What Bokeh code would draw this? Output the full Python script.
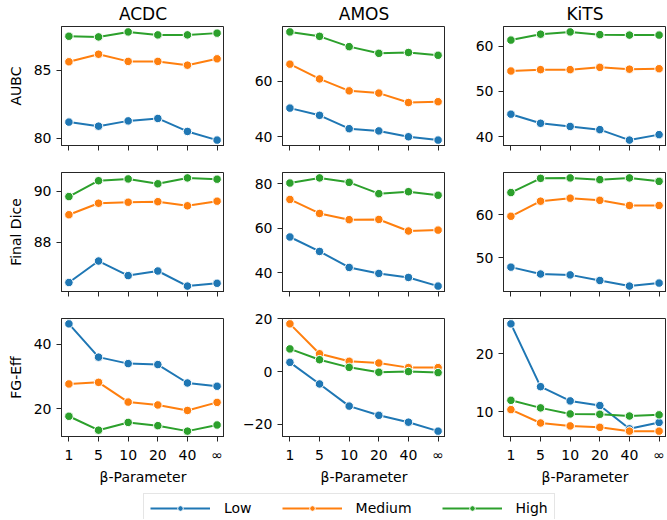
from bokeh.plotting import figure
from bokeh.layouts import row, column
from bokeh.models import Range1d, FixedTicker, Legend, LegendItem
from bokeh.core.properties import value
from bokeh.embed import file_html
from bokeh.resources import INLINE

# ---------------- data ----------------
betas = ["1", "5", "10", "20", "40", "∞"]
datasets = ["ACDC", "AMOS", "KiTS"]
metrics = ["AUBC", "Final Dice", "FG-Eff"]
levels = ["Low", "Medium", "High"]

acdc_aubc_low = [81.18, 80.88, 81.27, 81.45, 80.49, 79.85]
acdc_aubc_medium = [85.64, 86.20, 85.67, 85.67, 85.39, 85.86]
acdc_aubc_high = [87.53, 87.48, 87.85, 87.63, 87.63, 87.76]

amos_aubc_low = [50.3, 47.7, 42.9, 42.1, 40.0, 38.8]
amos_aubc_medium = [66.1, 60.8, 56.5, 55.7, 52.3, 52.6]
amos_aubc_high = [77.7, 76.1, 72.4, 70.0, 70.3, 69.3]

kits_aubc_low = [45.0, 43.0, 42.3, 41.6, 39.3, 40.5]
kits_aubc_medium = [54.5, 54.8, 54.8, 55.3, 54.9, 55.0]
kits_aubc_high = [61.3, 62.6, 63.1, 62.5, 62.4, 62.4]

acdc_dice_low = [86.43, 87.27, 86.70, 86.88, 86.29, 86.40]
acdc_dice_medium = [89.08, 89.53, 89.57, 89.59, 89.43, 89.61]
acdc_dice_high = [89.79, 90.41, 90.48, 90.29, 90.52, 90.47]

amos_dice_low = [56.1, 49.6, 42.4, 39.7, 37.9, 34.0]
amos_dice_medium = [73.0, 66.7, 63.9, 64.0, 58.8, 59.2]
amos_dice_high = [80.4, 82.7, 80.7, 75.6, 76.5, 74.9]

kits_dice_low = [47.8, 46.2, 46.0, 44.7, 43.4, 44.1]
kits_dice_medium = [59.6, 63.1, 63.8, 63.3, 62.1, 62.1]
kits_dice_high = [65.1, 68.4, 68.5, 68.1, 68.5, 67.7]

acdc_fg_low = [46.3, 36.0, 34.0, 33.7, 28.0, 27.0]
acdc_fg_medium = [27.7, 28.2, 22.1, 21.2, 19.5, 22.0]
acdc_fg_high = [17.7, 13.4, 15.8, 14.8, 13.1, 15.0]

amos_fg_low = [3.5, -4.7, -13.1, -16.6, -19.2, -22.6]
amos_fg_medium = [18.1, 6.75, 3.9, 3.25, 1.5, 1.5]
amos_fg_high = [8.6, 4.5, 1.6, -0.25, 0.0, -0.4]

kits_fg_low = [25.15, 14.35, 11.9, 11.1, 7.1, 8.2]
kits_fg_medium = [10.4, 8.1, 7.6, 7.35, 6.7, 6.7]
kits_fg_high = [12.0, 10.7, 9.66, 9.6, 9.3, 9.5]

yticks_aubc = [[80, 85], [40, 60], [40, 50, 60]]
yticks_dice = [[88, 90], [40, 60, 80], [50, 60]]
yticks_fg = [[20, 40], [-20, 0, 20], [10, 20]]

panels = [
    [(acdc_aubc_low, acdc_aubc_medium, acdc_aubc_high),
     (amos_aubc_low, amos_aubc_medium, amos_aubc_high),
     (kits_aubc_low, kits_aubc_medium, kits_aubc_high)],
    [(acdc_dice_low, acdc_dice_medium, acdc_dice_high),
     (amos_dice_low, amos_dice_medium, amos_dice_high),
     (kits_dice_low, kits_dice_medium, kits_dice_high)],
    [(acdc_fg_low, acdc_fg_medium, acdc_fg_high),
     (amos_fg_low, amos_fg_medium, amos_fg_high),
     (kits_fg_low, kits_fg_medium, kits_fg_high)],
]
yticks = [yticks_aubc, yticks_dice, yticks_fg]

colors = {"Low": "#1f77b4", "Medium": "#ff7f0e", "High": "#2ca02c"}
FONT = "DejaVu Sans"
xs = list(range(len(betas)))

# ---------------- layout constants (pixels) ----------------
FW, FH = 163, 119
LEFT = [61, 58, 58]          # left border of each column's figure
RIGHT = [0, 0, 0]
TOTAL_W = sum(LEFT) + 3 * FW + sum(RIGHT)
HEADER_H = 24


def make_panel(r, c):
    series = panels[r][c]
    allv = [v for s in series for v in s]
    lo, hi = min(allv), max(allv)
    pad = (hi - lo) * 0.05
    mbl, mbr = LEFT[c], RIGHT[c]
    mbt = 2 if r == 0 else 14
    mbb = 13 if r < 2 else 50
    p = figure(width=mbl + FW + mbr, height=mbt + FH + mbb,
               output_backend="svg", toolbar_location=None,
               title=None,
               x_range=Range1d(-0.25, len(betas) - 0.75),
               y_range=Range1d(lo - pad, hi + pad),
               min_border_left=mbl, min_border_right=mbr,
               min_border_top=mbt, min_border_bottom=mbb)
    p.xgrid.visible = False
    p.ygrid.visible = False
    p.outline_line_color = "#262626"
    p.outline_line_width = 1
    p.background_fill_color = "white"
    p.border_fill_color = "white"
    for ax in (p.xaxis[0], p.yaxis[0]):
        ax.axis_line_color = "#262626"
        ax.major_tick_line_color = "#262626"
        ax.major_tick_in = 0
        ax.major_tick_out = 5
        ax.minor_tick_line_color = None
        ax.major_label_text_font = FONT
        ax.major_label_text_font_size = "14px"
        ax.major_label_text_color = "black"
        ax.axis_label_text_font = FONT
        ax.axis_label_text_font_size = "14px"
        ax.axis_label_text_font_style = "normal"
        ax.axis_label_text_color = "black"
    p.xaxis.ticker = FixedTicker(ticks=xs)
    p.yaxis.ticker = FixedTicker(ticks=yticks[r][c])
    p.yaxis.major_label_orientation = "horizontal"
    p.yaxis.major_label_standoff = 5
    if c == 0:
        p.yaxis.axis_label = metrics[r]
        p.yaxis.axis_label_standoff = 7
    if r < 2:
        # tick marks only, no tick labels (shared x axis)
        p.xaxis.major_label_text_color = None
        p.xaxis.major_label_text_alpha = 0
        p.xaxis.major_label_text_font_size = "1px"
        p.xaxis.major_label_standoff = 0
    else:
        p.xaxis.major_label_overrides = {i: b for i, b in enumerate(betas)}
        p.xaxis.axis_label = "β-Parameter"
        p.xaxis.major_label_standoff = 5
        p.xaxis.axis_label_standoff = 3
    for lvl, ys in zip(levels, series):
        p.line(xs, ys, line_color=colors[lvl], line_width=2)
        p.scatter(xs, ys, size=8.5, fill_color=colors[lvl],
                  line_color="white", line_width=1)
    return p


# header strip with the column titles
hdr = figure(width=TOTAL_W, height=HEADER_H, output_backend="svg",
             toolbar_location=None,
             x_range=Range1d(0, TOTAL_W), y_range=Range1d(0, HEADER_H),
             x_axis_location=None, y_axis_location=None,
             min_border_left=0, min_border_right=0,
             min_border_top=0, min_border_bottom=0)
hdr.outline_line_color = None
hdr.xgrid.visible = False
hdr.ygrid.visible = False
centers = []
acc = 0
for c in range(3):
    centers.append(acc + LEFT[c] + FW / 2)
    acc += LEFT[c] + FW + RIGHT[c]
hdr.text(x=centers, y=[HEADER_H / 2 - 1] * 3, text=datasets,
         text_font=value(FONT), text_font_size="17px",
         text_align="center", text_baseline="middle", text_color="black")

rows = [hdr]
for r in range(3):
    rows.append(row(*[make_panel(r, c) for c in range(3)]))

# legend strip (its renderers lie outside the visible range; only the legend shows)
lg = figure(width=TOTAL_W, height=32, output_backend="svg", toolbar_location=None,
            x_range=Range1d(-100, -99), y_range=Range1d(-100, -99),
            x_axis_location=None, y_axis_location=None,
            min_border_left=0, min_border_right=0,
            min_border_top=0, min_border_bottom=0)
lg.outline_line_color = None
lg.xgrid.visible = False
lg.ygrid.visible = False
items = []
for lvl, ys in zip(levels, panels[0][0]):
    r1 = lg.line(xs, ys, line_color=colors[lvl], line_width=1.8)
    r2 = lg.scatter(xs, ys, size=7.5, fill_color=colors[lvl],
                    line_color="white", line_width=1)
    items.append(LegendItem(label=lvl, renderers=[r1, r2]))
legend = Legend(items=items, orientation="horizontal", location=(143, -4),
                glyph_width=60, glyph_height=14, label_height=14,
                label_text_font=FONT, label_text_font_size="14px",
                label_text_color="black", label_standoff=14,
                spacing=30, padding=6, margin=0,
                border_line_color="#cccccc", border_line_width=1,
                background_fill_color="white")
lg.add_layout(legend, "center")

layout = column(*rows, lg)

open("out.html", "w").write(file_html(layout, INLINE))
